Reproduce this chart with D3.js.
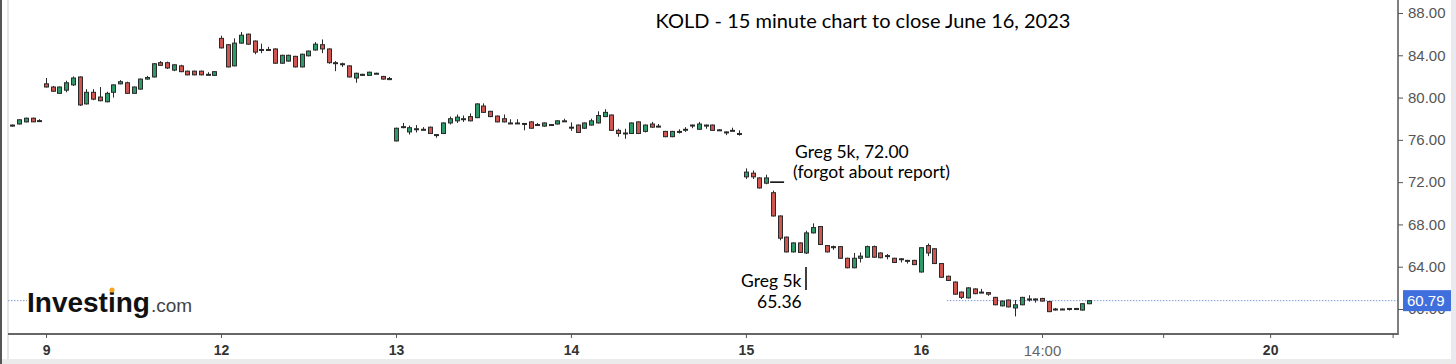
<!DOCTYPE html>
<html><head><meta charset="utf-8">
<script src="https://cdn.jsdelivr.net/npm/d3@7/dist/d3.min.js"></script>
<style>
html,body{margin:0;padding:0;background:#fff;}
svg{display:block;}
</style></head>
<body>
<svg id="c" width="1456" height="364"></svg>
<script>
// ---- DATA (15-minute candles, KOLD, June 8 tail .. June 16 2023) ----
const opens = [
 77.3,77.5,77.7,78.05,77.75,
 81.3,81.0,80.4,80.7,81.2,81.95,79.4,80.5,80.05,79.6,80.5,81.3,81.4,80.4,80.8,81.75,81.95,83.3,83.3,82.6,83.0,82.5,82.5,82.5,82.15,82.1,
 85.6,85.0,83.0,85.15,86.0,85.35,84.55,84.55,84.6,83.25,83.45,83.9,82.9,83.95,84.5,85.0,84.6,83.3,83.2,83.0,81.85,82.2,82.1,82.3,82.0,81.7,
 75.9,77.2,76.75,77.0,76.95,77.2,76.5,76.6,77.6,77.8,78.0,78.2,78.1,79.2,78.7,78.25,78.0,77.6,77.6,77.55,77.7,77.4,77.3,77.45,77.5,77.75,
 77.2,77.4,77.1,77.4,77.6,78.2,78.35,76.9,76.65,76.6,77.7,76.8,77.5,77.25,76.8,76.3,76.8,76.95,77.4,77.0,77.4,77.4,76.95,76.75,76.9,76.6,
 72.5,72.85,72.4,71.9,71.0,68.8,66.8,65.4,66.25,65.3,67.2,67.8,66.0,65.9,65.9,64.8,63.9,64.8,64.9,65.9,65.3,65.0,64.8,64.75,64.6,64.6,
 63.5,66.0,65.7,64.3,63.1,62.55,61.6,61.05,61.9,61.6,61.55,61.1,60.3,60.85,60.1,60.4,60.95,60.95,61.0,60.7,59.95,60.0,60.05,59.95,59.9,60.5
];
const highs = [
 77.45,77.95,78.1,78.1,77.95,
 81.85,81.1,81.05,81.6,82.0,82.0,80.8,80.8,81.0,80.55,81.25,81.65,81.5,81.05,81.8,82.05,83.25,83.45,83.4,83.15,83.1,82.55,82.55,82.55,82.4,82.5,
 85.85,85.05,85.6,86.2,86.05,85.4,85.1,84.8,84.65,84.05,84.05,83.95,84.15,84.45,85.25,85.5,84.65,83.45,83.3,83.05,82.35,82.25,82.45,82.35,82.05,81.95,
 77.15,77.6,77.35,77.4,77.2,77.25,76.55,77.65,78.2,78.4,78.3,78.5,79.45,79.45,78.75,78.3,78.4,77.95,77.95,77.6,77.75,77.6,77.65,77.5,77.85,78.0,
 77.65,77.45,77.65,78.0,78.7,78.9,78.4,77.05,77.05,77.65,77.75,77.45,77.7,77.5,76.85,76.85,77.0,77.2,77.45,77.7,77.45,77.45,77.0,76.8,77.15,76.9,
 73.3,73.1,72.45,72.7,71.2,68.85,66.85,66.3,66.3,67.4,68.1,67.85,66.05,66.0,65.95,64.85,65.3,65.35,66.0,66.0,65.35,65.2,64.85,64.8,64.65,64.65,
 65.8,66.2,65.75,64.35,63.15,62.6,61.65,62.05,61.95,61.9,61.6,61.15,60.8,60.9,60.85,61.15,61.3,61.0,61.05,60.75,60.1,60.05,60.1,60.1,60.55,60.85
];
const lows = [
 77.25,77.45,77.65,77.7,77.7,
 80.95,80.55,80.35,80.5,81.1,79.2,79.35,79.75,79.65,79.55,80.0,81.25,80.35,80.35,80.75,81.7,81.9,83.0,82.7,82.5,82.4,82.1,82.1,82.1,82.1,82.05,
 84.65,82.85,82.95,85.1,85.0,84.1,84.2,84.45,83.2,83.2,83.4,82.85,82.85,83.9,84.45,84.2,83.2,82.5,82.9,81.9,81.4,82.05,82.05,82.25,81.7,81.65,
 75.85,77.1,76.5,76.7,76.9,76.55,76.2,76.55,77.45,77.6,77.7,77.75,78.05,78.55,78.15,77.65,77.65,77.55,77.55,76.9,77.05,77.35,77.25,77.4,77.45,77.7,
 76.85,76.65,77.05,77.35,77.55,78.15,76.85,76.3,76.1,76.55,76.55,76.7,77.15,77.2,76.25,76.25,76.6,76.75,77.1,76.95,77.05,76.85,76.9,76.45,76.85,76.4,
 72.3,72.3,71.4,71.8,68.75,66.5,65.35,65.35,65.3,65.2,67.15,66.05,65.35,65.6,64.75,63.85,63.85,64.4,64.85,64.85,64.8,64.7,64.35,64.4,64.3,64.15,
 63.45,65.0,64.25,62.95,62.65,61.35,60.95,61.0,61.4,61.55,61.25,60.35,60.25,60.15,59.3,60.35,60.7,60.6,60.7,59.7,59.85,59.95,59.85,59.9,59.85,60.45
];
const closes = [
 77.4,77.9,78.05,77.7,77.82,
 81.0,80.6,81.0,81.4,81.85,79.3,80.5,79.85,79.7,80.4,81.2,81.5,80.4,81.0,81.75,81.9,83.2,83.05,82.8,83.1,82.45,82.15,82.15,82.15,82.2,82.45,
 84.7,82.9,85.15,85.9,85.05,84.3,84.5,84.5,83.25,84.0,84.0,82.9,84.1,84.4,85.05,84.6,83.3,83.25,83.15,81.95,82.3,82.1,82.4,82.3,81.75,81.8,
 77.1,77.25,77.15,77.05,77.0,76.6,76.45,77.6,78.0,78.15,78.0,77.8,79.4,78.6,78.2,77.7,77.7,77.6,77.6,77.5,77.1,77.45,77.6,77.45,77.8,77.8,
 77.15,76.7,77.6,77.8,78.3,78.6,76.9,76.6,76.6,77.6,76.6,77.4,77.2,77.3,76.3,76.8,76.8,77.0,77.4,77.5,77.3,76.9,76.95,76.75,76.9,76.6,
 72.95,72.5,71.45,72.4,68.8,66.7,65.4,66.25,65.35,67.2,67.7,66.1,65.4,65.8,64.8,63.9,64.8,65.0,65.9,64.9,64.85,65.05,64.4,64.7,64.55,64.2,
 65.8,65.3,64.3,63.0,62.7,61.4,61.1,62.0,61.45,61.6,61.4,60.4,60.75,60.2,60.4,61.1,60.9,60.85,60.75,59.75,60.0,60.0,60.0,60.05,60.5,60.79
];
const lastPrice = 60.79;
const priceTicks = [60, 64, 68, 72, 76, 80, 84, 88];
const timeTickIndex = [5, 31, 57, 83, 109, 135, 153, 171, 186.9, 205.1];
const timeTickLabels = ["9", "12", "13", "14", "15", "16", "14:00", "", "20", ""];
const timeTickBold = [true, true, true, true, true, true, false, false, true, false];
const title = "KOLD - 15 minute chart to close June 16, 2023";

// ---- LAYOUT ----
const svg = d3.select("#c");
const L = 8, R = 1398, AXY = 334;
const x = d3.scaleLinear().domain([-0.65, 205.9]).range([L, R]);
const y = d3.scaleLinear().domain([60, 88]).range([309, 13]);

svg.append("rect").attr("width",1456).attr("height",364).attr("fill","#fff");
// frame pieces
svg.append("rect").attr("x",0).attr("y",359).attr("width",1456).attr("height",5).attr("fill","#ebebeb");
svg.append("rect").attr("x",1451).attr("y",0).attr("width",5).attr("height",364).attr("fill","#e9e9ef");
svg.append("line").attr("x1",1).attr("x2",1).attr("y1",0).attr("y2",364).attr("stroke","#555").attr("stroke-width",2);
svg.append("line").attr("x1",8).attr("x2",8).attr("y1",0).attr("y2",359).attr("stroke","#ccc").attr("stroke-width",1);

// last-price dotted line
const py = y(lastPrice);
svg.append("line").attr("x1",L).attr("x2",27).attr("y1",py).attr("y2",py)
  .attr("stroke","#7f9bd0").attr("stroke-width",1).attr("stroke-dasharray","1.5,1.5");
svg.append("line").attr("x1",x(135)+26).attr("x2",R).attr("y1",py).attr("y2",py)
  .attr("stroke","#7f9bd0").attr("stroke-width",1).attr("stroke-dasharray","1.5,1.5");

// candles
const data = opens.map((o,i)=>({i,o,h:highs[i],l:lows[i],c:closes[i]}));
const g = svg.append("g");
const up = "#2f9a69", dn = "#cf5550", edge = "#2a2a2a";
const cg = g.selectAll("g.cd").data(data).join("g").attr("class","cd");
cg.append("line")
  .attr("x1",d=>Math.round(x(d.i))+0.5).attr("x2",d=>Math.round(x(d.i))+0.5)
  .attr("y1",d=>y(d.h)).attr("y2",d=>y(d.l))
  .attr("stroke",edge).attr("stroke-width",1);
cg.append("rect")
  .attr("x",d=>Math.round(x(d.i))-1.5).attr("width",4)
  .attr("y",d=>y(Math.max(d.o,d.c)))
  .attr("height",d=>Math.max(1,Math.abs(y(d.o)-y(d.c))))
  .attr("fill",d=>d.c>=d.o?up:dn).attr("stroke",edge).attr("stroke-width",1);

// right axis
svg.append("line").attr("x1",R).attr("x2",R).attr("y1",0).attr("y2",AXY+1)
  .attr("stroke","#555").attr("stroke-width",1.5);
const ay = svg.append("g").attr("transform",`translate(${R},0)`)
  .call(d3.axisRight(y).tickValues(priceTicks).tickFormat(d3.format(".2f")).tickSize(5).tickPadding(5));
ay.select(".domain").remove();
ay.selectAll(".tick line").attr("stroke","#555");
ay.selectAll(".tick text").attr("fill","#555").style("font-family","'Liberation Sans',Arial,sans-serif").style("font-size","15px");

// last price box (covers the upper part of the 60.00 label, as in the source)
svg.append("rect").attr("x",1403).attr("y",py-10.5).attr("width",48).attr("height",21).attr("fill","#3f6fdc");
svg.append("text").attr("x",1407).attr("y",py+5.5).text(d3.format(".2f")(lastPrice))
  .attr("fill","#fff").style("font-family","'Liberation Sans',Arial,sans-serif").style("font-size","15px");

// bottom axis
svg.append("line").attr("x1",L).attr("x2",R).attr("y1",AXY).attr("y2",AXY).attr("stroke","#666").attr("stroke-width",2);
const ax = svg.append("g").attr("transform",`translate(0,${AXY})`)
  .call(d3.axisBottom(x).tickValues(timeTickIndex).tickFormat((d,i)=>timeTickLabels[i]).tickSize(4).tickPadding(7));
ax.select(".domain").remove();
ax.selectAll(".tick line").attr("stroke","#555");
ax.selectAll(".tick text")
  .style("font-family","'Liberation Sans',Arial,sans-serif")
  .style("font-size",(d,i)=>timeTickBold[i]?"14px":"15px")
  .style("font-weight",(d,i)=>timeTickBold[i]?"bold":"normal")
  .attr("fill",(d,i)=>timeTickBold[i]?"#333":"#666");

// title
svg.append("text").attr("x",863).attr("y",28).attr("text-anchor","middle").text(title)
  .style("font-family","Lato,'Open Sans',sans-serif").style("font-size","20px").attr("fill","#000");

// annotations
const af = "Lato,'Open Sans',sans-serif";
svg.append("text").attr("x",795).attr("y",158).text("Greg 5k, 72.00").style("font-family",af).style("font-size","17.5px");
svg.append("text").attr("x",793).attr("y",178).text("(forgot about report)").style("font-family",af).style("font-size","17.5px");
svg.append("line").attr("x1",x(112)+4).attr("x2",x(112)+18).attr("y1",y(72)).attr("y2",y(72)).attr("stroke","#000").attr("stroke-width",1.5);
svg.append("text").attr("x",741).attr("y",287).text("Greg 5k").style("font-family",af).style("font-size","17.5px");
svg.append("text").attr("x",757).attr("y",308).text("65.36").style("font-family",af).style("font-size","17.5px");
svg.append("line").attr("x1",806).attr("x2",806).attr("y1",267).attr("y2",290).attr("stroke","#000").attr("stroke-width",1.5);

// logo
const lg = svg.append("g");
lg.append("text").attr("x",27).attr("y",312).text("Investing")
  .style("font-family","'Liberation Sans',Arial,sans-serif").style("font-weight","bold").style("font-size","28px").attr("fill","#111");
lg.append("text").attr("x",151).attr("y",312).text(".com")
  .style("font-family","'Liberation Sans',Arial,sans-serif").style("font-size","19px").attr("fill","#444");
lg.append("circle").attr("cx",112).attr("cy",290).attr("r",2.6).attr("fill","#f5a623");
</script>
</body></html>
